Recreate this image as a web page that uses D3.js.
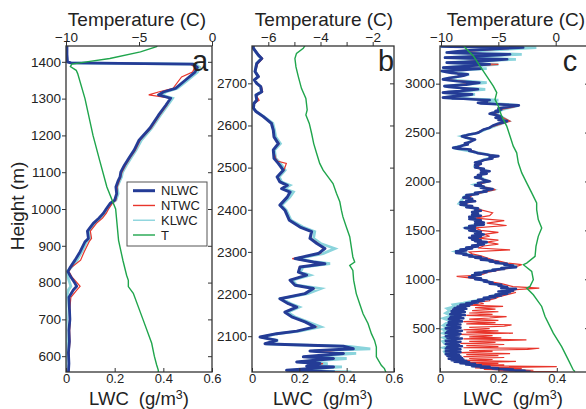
<!DOCTYPE html>
<html>
<head>
<meta charset="utf-8">
<script src="https://cdn.jsdelivr.net/npm/d3@7"></script>
<style>
  body { margin: 0; background: #fff; }
  text { font-family: "Liberation Sans", Arial, Helvetica, sans-serif; fill: #222; }
</style>
</head>
<body>
<script>
// profiles are [height (m), value] pairs

// panel a
const nlwcA = [[557,0.01],[580,0.012],[610,0.01],[640,0.014],[670,0.012],[700,0.016],[730,0.014],[760,0.012],[780,0.03],[790,0.044],[800,0.035],[815,0.02],[830,0.008],[840,0.016],[861,0.037],[884,0.058],[911,0.078],[920,0.092],[940,0.088],[961,0.112],[975,0.135],[988,0.153],[1000,0.165],[1015,0.181],[1024,0.2],[1042,0.208],[1060,0.205],[1078,0.215],[1087,0.222],[1100,0.225],[1119,0.24],[1140,0.26],[1160,0.28],[1187,0.3],[1220,0.345],[1255,0.38],[1282,0.41],[1301,0.43],[1310,0.38],[1318,0.4],[1328,0.45],[1350,0.49],[1372,0.53],[1385,0.54],[1394,0.52],[1397,0.02],[1400,0.006],[1420,0.004],[1443,0.004]];
const ntwcA = [[557,0.012],[580,0.014],[610,0.013],[640,0.016],[670,0.015],[700,0.018],[730,0.016],[760,0.02],[780,0.045],[790,0.058],[800,0.045],[815,0.025],[830,0.012],[840,0.02],[861,0.06],[884,0.075],[911,0.095],[920,0.105],[940,0.1],[961,0.125],[975,0.15],[988,0.165],[1000,0.175],[1015,0.19],[1024,0.205],[1042,0.21],[1060,0.21],[1078,0.22],[1087,0.225],[1100,0.23],[1119,0.245],[1140,0.265],[1160,0.285],[1187,0.305],[1220,0.35],[1255,0.385],[1282,0.415],[1301,0.43],[1310,0.34],[1318,0.38],[1328,0.44],[1359,0.475],[1372,0.52],[1385,0.53],[1394,0.51],[1397,0.015],[1400,0.005],[1420,0.004],[1443,0.004]];
const klwcA = [[557,0.0],[580,0.0],[610,0.0],[640,0.002],[670,0.0],[700,0.002],[730,0.0],[760,0.002],[780,0.01],[790,0.02],[800,0.015],[815,0.008],[830,0.004],[840,0.02],[861,0.045],[884,0.065],[911,0.085],[920,0.098],[940,0.094],[961,0.118],[975,0.14],[988,0.158],[1000,0.17],[1015,0.186],[1024,0.205],[1042,0.214],[1060,0.21],[1078,0.222],[1087,0.228],[1100,0.232],[1119,0.248],[1140,0.268],[1160,0.288],[1187,0.31],[1220,0.352],[1255,0.388],[1282,0.418],[1301,0.438],[1310,0.39],[1318,0.41],[1328,0.458],[1350,0.5],[1372,0.54],[1385,0.55],[1394,0.53],[1397,0.02],[1400,0.004],[1420,0.002],[1443,0.002]];
const tempA = [[557,-3.68],[562,-3.68],[576,-3.79],[600,-3.95],[635,-4.13],[698,-4.71],[771,-5.39],[789,-5.73],[806,-5.73],[820,-5.85],[860,-6.1],[915,-6.4],[1000,-6.6],[1060,-7.2],[1133,-7.7],[1200,-8.15],[1300,-8.7],[1368,-9.2],[1377,-9.3],[1387,-9.7],[1394,-9.6],[1400,-8.6],[1409,-7.0],[1427,-4.9],[1441,-3.8],[1443,-3.75]];

// panel b
const nlwcB = [[2015,0.35],[2019,0.146],[2027,0.344],[2029,0.231],[2035,0.287],[2039,0.189],[2047,0.344],[2051,0.217],[2059,0.386],[2065,0.245],[2070,0.428],[2076,0.386],[2080,0.139],[2082,0.055],[2090,0.104],[2098,0.034],[2106,0.104],[2112,0.189],[2122,0.266],[2134,0.224],[2146,0.168],[2157,0.139],[2169,0.189],[2177,0.154],[2189,0.118],[2201,0.224],[2213,0.259],[2221,0.182],[2233,0.161],[2245,0.231],[2252,0.196],[2264,0.203],[2272,0.308],[2276,0.259],[2284,0.182],[2296,0.28],[2308,0.308],[2320,0.274],[2332,0.245],[2348,0.252],[2359,0.203],[2375,0.158],[2399,0.139],[2411,0.118],[2430,0.149],[2442,0.161],[2450,0.125],[2458,0.149],[2466,0.118],[2478,0.106],[2494,0.132],[2510,0.111],[2522,0.093],[2542,0.09],[2557,0.111],[2573,0.093],[2589,0.09],[2605,0.082],[2621,0.048],[2633,0.017],[2641,0.006],[2652,0.008],[2660,0.02],[2672,0.017],[2680,0.041],[2692,0.037],[2700,0.02],[2708,0.01],[2716,0.027],[2728,0.013],[2747,0.02],[2759,0.041],[2767,0.027],[2783,0.006],[2789,0.005]];
const ntwcB = [[2015,0.4],[2019,0.15],[2027,0.35],[2029,0.24],[2035,0.3],[2039,0.19],[2047,0.35],[2051,0.22],[2059,0.39],[2065,0.27],[2070,0.43],[2076,0.39],[2080,0.14],[2082,0.055],[2090,0.1],[2098,0.03],[2106,0.1],[2112,0.19],[2122,0.27],[2134,0.22],[2146,0.17],[2157,0.14],[2169,0.19],[2177,0.15],[2189,0.12],[2201,0.22],[2213,0.26],[2221,0.18],[2233,0.16],[2245,0.23],[2252,0.2],[2264,0.2],[2272,0.3],[2276,0.26],[2284,0.17],[2296,0.29],[2308,0.3],[2320,0.28],[2332,0.25],[2348,0.25],[2359,0.2],[2375,0.16],[2399,0.14],[2411,0.12],[2430,0.15],[2442,0.16],[2450,0.125],[2458,0.15],[2466,0.12],[2478,0.11],[2494,0.135],[2510,0.145],[2515,0.11],[2522,0.1],[2542,0.09],[2557,0.115],[2573,0.093],[2589,0.09],[2605,0.085],[2621,0.048],[2633,0.017],[2641,0.006],[2652,0.008],[2660,0.03],[2672,0.017],[2680,0.045],[2692,0.04],[2700,0.02],[2708,0.01],[2716,0.03],[2728,0.013],[2747,0.025],[2759,0.045],[2767,0.03],[2783,0.006],[2789,0.005]];
const klwcB = [[2015,0.42],[2019,0.16],[2027,0.38],[2029,0.25],[2035,0.32],[2039,0.2],[2047,0.4],[2051,0.23],[2059,0.44],[2065,0.26],[2070,0.5],[2076,0.41],[2080,0.15],[2082,0.06],[2090,0.11],[2098,0.04],[2106,0.11],[2112,0.2],[2122,0.29],[2134,0.235],[2146,0.18],[2157,0.15],[2169,0.2],[2177,0.165],[2189,0.125],[2201,0.235],[2213,0.29],[2221,0.19],[2233,0.17],[2245,0.245],[2252,0.205],[2264,0.215],[2272,0.33],[2276,0.27],[2284,0.19],[2296,0.3],[2308,0.35],[2320,0.29],[2332,0.26],[2348,0.265],[2359,0.215],[2375,0.165],[2399,0.145],[2411,0.125],[2430,0.16],[2442,0.175],[2450,0.135],[2458,0.16],[2466,0.125],[2478,0.115],[2494,0.14],[2510,0.12],[2522,0.1],[2542,0.095],[2557,0.12],[2573,0.1],[2589,0.095],[2605,0.088],[2621,0.05],[2633,0.018],[2641,0.006],[2652,0.008],[2660,0.02],[2672,0.017],[2680,0.04],[2692,0.036],[2700,0.02],[2708,0.01],[2716,0.026],[2728,0.013],[2747,0.02],[2759,0.04],[2767,0.026],[2783,0.006],[2789,0.005]];
const tempB = [[2012,-1.48],[2023,-1.55],[2031,-1.67],[2051,-1.86],[2074,-1.86],[2090,-1.93],[2106,-2.05],[2130,-2.18],[2153,-2.37],[2177,-2.5],[2201,-2.63],[2233,-2.73],[2256,-2.76],[2268,-2.88],[2276,-2.69],[2288,-2.76],[2312,-2.82],[2336,-2.88],[2359,-3.01],[2383,-3.14],[2399,-3.2],[2419,-3.26],[2439,-3.39],[2462,-3.52],[2478,-3.71],[2494,-3.9],[2510,-4.03],[2534,-4.15],[2557,-4.26],[2581,-4.34],[2605,-4.43],[2625,-4.56],[2637,-4.51],[2664,-4.56],[2688,-4.73],[2716,-4.85],[2739,-4.94],[2759,-4.98],[2771,-4.92],[2783,-4.66],[2789,-4.6]];

// panel c
const nlwcC = [[55,0.31],[60,0.26],[65,0.29],[72,0.22],[78,0.25],[85,0.18],[90,0.2],[98,0.14],[105,0.17],[112,0.11],[120,0.14],[128,0.09],[135,0.12],[141,0.07],[150,0.1],[158,0.05],[165,0.09],[172,0.04],[180,0.08],[188,0.03],[195,0.075],[203,0.03],[210,0.07],[218,0.025],[225,0.065],[233,0.02],[240,0.06],[248,0.025],[255,0.07],[263,0.02],[270,0.055],[278,0.03],[285,0.07],[293,0.02],[300,0.06],[308,0.025],[315,0.075],[323,0.03],[330,0.065],[338,0.02],[346,0.06],[354,0.025],[362,0.07],[370,0.02],[378,0.055],[386,0.03],[394,0.075],[402,0.025],[410,0.06],[418,0.02],[426,0.065],[434,0.03],[442,0.07],[450,0.02],[458,0.06],[466,0.025],[474,0.075],[482,0.03],[490,0.06],[498,0.02],[506,0.07],[514,0.03],[522,0.065],[530,0.025],[538,0.07],[546,0.03],[554,0.06],[562,0.03],[570,0.075],[578,0.035],[586,0.065],[594,0.03],[602,0.08],[610,0.035],[618,0.07],[626,0.04],[634,0.085],[642,0.035],[650,0.07],[658,0.04],[666,0.085],[674,0.04],[682,0.08],[690,0.045],[698,0.09],[706,0.05],[714,0.085],[722,0.06],[730,0.1],[739,0.07],[748,0.11],[755,0.09],[764,0.13],[773,0.11],[782,0.15],[790,0.13],[800,0.17],[810,0.15],[818,0.19],[825,0.17],[835,0.21],[845,0.19],[852,0.23],[860,0.21],[868,0.24],[875,0.2],[884,0.25],[893,0.23],[902,0.26],[910,0.21],[920,0.23],[934,0.2],[944,0.21],[955,0.17],[966,0.18],[978,0.15],[988,0.16],[1000,0.12],[1010,0.14],[1020,0.1],[1029,0.12],[1040,0.11],[1050,0.14],[1064,0.12],[1072,0.16],[1080,0.15],[1090,0.19],[1098,0.18],[1106,0.22],[1115,0.21],[1124,0.26],[1132,0.24],[1141,0.25],[1150,0.22],[1158,0.23],[1166,0.19],[1175,0.2],[1183,0.17],[1192,0.18],[1200,0.14],[1210,0.16],[1220,0.12],[1228,0.14],[1234,0.1],[1242,0.11],[1250,0.08],[1260,0.09],[1270,0.055],[1278,0.075],[1285,0.055],[1295,0.09],[1305,0.07],[1315,0.11],[1325,0.09],[1335,0.13],[1345,0.11],[1356,0.15],[1371,0.13],[1380,0.16],[1390,0.12],[1398,0.14],[1405,0.11],[1415,0.13],[1425,0.1],[1435,0.14],[1445,0.11],[1458,0.15],[1473,0.12],[1485,0.14],[1500,0.1],[1512,0.12],[1525,0.085],[1535,0.12],[1545,0.1],[1558,0.15],[1568,0.12],[1580,0.15],[1592,0.12],[1604,0.14],[1616,0.1],[1627,0.12],[1638,0.1],[1650,0.14],[1662,0.11],[1675,0.13],[1688,0.11],[1700,0.14],[1712,0.12],[1725,0.13],[1737,0.09],[1750,0.11],[1762,0.07],[1774,0.09],[1786,0.07],[1797,0.12],[1810,0.09],[1822,0.11],[1835,0.08],[1848,0.1],[1860,0.09],[1872,0.13],[1885,0.12],[1898,0.16],[1910,0.15],[1922,0.18],[1935,0.14],[1948,0.15],[1960,0.12],[1972,0.14],[1985,0.13],[2002,0.17],[2015,0.15],[2030,0.14],[2042,0.12],[2053,0.14],[2066,0.13],[2080,0.16],[2092,0.14],[2105,0.17],[2118,0.14],[2130,0.15],[2143,0.12],[2156,0.13],[2168,0.12],[2180,0.14],[2194,0.12],[2207,0.14],[2220,0.15],[2235,0.18],[2247,0.17],[2259,0.2],[2268,0.17],[2276,0.16],[2288,0.13],[2300,0.12],[2314,0.1],[2327,0.105],[2336,0.06],[2344,0.045],[2352,0.06],[2360,0.07],[2370,0.08],[2378,0.095],[2390,0.085],[2400,0.1],[2415,0.11],[2429,0.12],[2446,0.09],[2463,0.075],[2472,0.09],[2480,0.1],[2490,0.12],[2498,0.13],[2515,0.14],[2532,0.15],[2550,0.17],[2570,0.18],[2592,0.2],[2605,0.22],[2617,0.23],[2630,0.2],[2640,0.21],[2652,0.19],[2662,0.21],[2672,0.2],[2680,0.19],[2692,0.17],[2703,0.18],[2712,0.2],[2720,0.19],[2737,0.21],[2748,0.2],[2760,0.23],[2770,0.25],[2778,0.27],[2786,0.22],[2790,0.2],[2798,0.14],[2805,0.13],[2812,0.16],[2820,0.15],[2832,0.17],[2838,0.12],[2845,0.08],[2850,0.04],[2857,0.01],[2866,0.03],[2875,0.06],[2883,0.09],[2890,0.11],[2896,0.07],[2900,0.05],[2904,0.02],[2908,0.01],[2916,0.03],[2925,0.07],[2934,0.1],[2942,0.13],[2950,0.09],[2958,0.06],[2966,0.03],[2975,0.015],[2983,0.05],[2990,0.09],[3000,0.11],[3010,0.135],[3018,0.09],[3025,0.06],[3034,0.03],[3044,0.01],[3058,0.03],[3070,0.06],[3082,0.08],[3095,0.095],[3103,0.06],[3110,0.04],[3120,0.02],[3129,0.006],[3135,0.04],[3140,0.08],[3147,0.11],[3154,0.14],[3158,0.08],[3160,0.05],[3164,0.011],[3172,0.05],[3180,0.1],[3190,0.14],[3198,0.17],[3203,0.12],[3207,0.08],[3211,0.04],[3215,0.023],[3222,0.08],[3230,0.14],[3240,0.19],[3249,0.23],[3254,0.15],[3258,0.1],[3262,0.05],[3266,0.017],[3275,0.09],[3285,0.16],[3293,0.21],[3300,0.24],[3305,0.16],[3310,0.1],[3314,0.05],[3318,0.023],[3330,0.06],[3340,0.1],[3350,0.16],[3360,0.22],[3369,0.285],[3372,0.18],[3375,0.1],[3378,0.04],[3380,0.006],[3385,0.006]];
const ntwcC = [[55,0.4],[62,0.2],[70,0.32],[78,0.15],[86,0.28],[95,0.12],[107,0.4],[115,0.14],[124,0.22],[133,0.1],[141,0.2],[150,0.09],[160,0.26],[170,0.08],[180,0.18],[190,0.1],[200,0.22],[210,0.08],[220,0.2],[230,0.09],[240,0.24],[250,0.07],[262,0.18],[272,0.1],[283,0.3],[295,0.34],[300,0.08],[312,0.2],[322,0.09],[333,0.22],[345,0.07],[355,0.19],[366,0.1],[380,0.296],[390,0.08],[400,0.21],[412,0.1],[424,0.18],[436,0.07],[449,0.25],[460,0.09],[472,0.2],[484,0.08],[496,0.17],[508,0.1],[520,0.22],[534,0.245],[545,0.09],[556,0.19],[568,0.08],[580,0.2],[592,0.1],[604,0.17],[619,0.228],[630,0.09],[642,0.18],[655,0.1],[668,0.2],[680,0.11],[695,0.19],[710,0.12],[722,0.216],[735,0.1],[750,0.15],[765,0.13],[780,0.17],[790,0.17],[805,0.19],[820,0.2],[835,0.22],[850,0.24],[865,0.26],[880,0.23],[895,0.26],[910,0.34],[925,0.25],[940,0.23],[955,0.21],[970,0.18],[985,0.16],[1000,0.14],[1015,0.1],[1029,0.057],[1040,0.13],[1055,0.15],[1070,0.16],[1085,0.19],[1100,0.21],[1115,0.24],[1130,0.26],[1149,0.28],[1165,0.23],[1180,0.21],[1200,0.18],[1220,0.16],[1240,0.14],[1260,0.11],[1280,0.1],[1300,0.24],[1320,0.13],[1340,0.15],[1360,0.2],[1380,0.16],[1400,0.2],[1420,0.13],[1440,0.17],[1460,0.15],[1480,0.2],[1500,0.14],[1525,0.12],[1550,0.228],[1575,0.16],[1600,0.22],[1625,0.12],[1650,0.17],[1680,0.18],[1710,0.14],[1740,0.11],[1770,0.08],[1800,0.12],[1830,0.1],[1860,0.11],[1890,0.15],[1917,0.19],[1945,0.15],[1970,0.13],[2000,0.17],[2030,0.14],[2053,0.13],[2080,0.15],[2105,0.16],[2130,0.14],[2156,0.13],[2180,0.14],[2207,0.14],[2235,0.17],[2259,0.2],[2276,0.16],[2300,0.12],[2327,0.103],[2344,0.05],[2378,0.09],[2429,0.113],[2463,0.08],[2498,0.125],[2532,0.15],[2570,0.19],[2617,0.24],[2662,0.21],[2703,0.185],[2737,0.21],[2760,0.25],[2778,0.27],[2805,0.14],[2832,0.17],[2857,0.012],[2890,0.1],[2908,0.012],[2942,0.125],[2975,0.018],[3010,0.13],[3044,0.012],[3095,0.09],[3129,0.006],[3154,0.14],[3164,0.011],[3198,0.2],[3215,0.023],[3249,0.23],[3266,0.017],[3300,0.24],[3318,0.023],[3369,0.28],[3380,0.006],[3385,0.006]];
const klwcC = [[55,0.31],[65,0.29],[78,0.22],[90,0.17],[105,0.13],[120,0.11],[141,0.09],[160,0.07],[175,0.05],[190,0.045],[209,0.04],[225,0.03],[240,0.02],[261,0.015],[280,0.03],[300,0.012],[320,0.035],[346,0.015],[365,0.01],[385,0.03],[405,0.012],[430,0.035],[449,0.01],[470,0.025],[490,0.01],[510,0.03],[530,0.012],[551,0.022],[575,0.035],[600,0.012],[625,0.04],[654,0.02],[680,0.035],[700,0.025],[720,0.05],[739,0.045],[755,0.08],[773,0.11],[790,0.14],[810,0.16],[825,0.175],[845,0.2],[860,0.22],[875,0.215],[893,0.24],[910,0.225],[934,0.21],[955,0.185],[978,0.165],[1000,0.13],[1029,0.105],[1064,0.13],[1098,0.19],[1132,0.265],[1166,0.21],[1200,0.155],[1234,0.12],[1285,0.055],[1320,0.1],[1371,0.155],[1405,0.12],[1473,0.135],[1525,0.09],[1576,0.145],[1627,0.11],[1712,0.135],[1774,0.065],[1848,0.085],[1917,0.18],[1968,0.12],[2002,0.165],[2053,0.13],[2105,0.16],[2156,0.12],[2207,0.135],[2259,0.19],[2300,0.12],[2344,0.045],[2378,0.09],[2429,0.11],[2463,0.075],[2498,0.13],[2532,0.155],[2617,0.235],[2662,0.21],[2703,0.19],[2737,0.215],[2778,0.27],[2805,0.14],[2832,0.2],[2857,0.01],[2890,0.12],[2908,0.01],[2942,0.155],[2975,0.015],[3010,0.16],[3044,0.01],[3095,0.1],[3129,0.005],[3154,0.16],[3164,0.01],[3198,0.2],[3215,0.02],[3249,0.26],[3266,0.015],[3300,0.28],[3318,0.02],[3369,0.33],[3380,0.005],[3385,0.005]];
const tempC = [[56,1.68],[73,1.53],[176,1.1],[312,0.52],[449,-0.21],[620,-0.93],[722,-1.22],[842,-1.95],[910,-2.53],[927,-2.24],[995,-1.95],[1081,-2.09],[1149,-2.82],[1166,-2.53],[1234,-1.8],[1336,-1.72],[1439,-1.52],[1525,-1.22],[1610,-1.52],[1712,-1.66],[1781,-1.66],[1883,-2.09],[1986,-2.53],[2088,-2.96],[2191,-3.26],[2293,-3.4],[2361,-3.7],[2463,-3.98],[2566,-4.27],[2668,-4.71],[2770,-5.0],[2839,-5.29],[2908,-5.14],[2975,-5.44],[3078,-6.02],[3180,-6.6],[3283,-7.18],[3369,-7.91],[3385,-8.0]];

// tick values
const heightTicksA = [600, 700, 800, 900, 1000, 1100, 1200, 1300, 1400];
const heightTicksB = [2100, 2200, 2300, 2400, 2500, 2600, 2700];
const heightTicksC = [500, 1000, 1500, 2000, 2500, 3000];
const lwcTicksAB = [0, 0.2, 0.4, 0.6];
const lwcTicksC = [0, 0.2, 0.4];
const tempTicksA = [-10, -5, 0];
const tempTicksB = [-6, -5, -4, -3, -2];
const tempLabelsB = [-6, -4, -2];
const tempTicksC = [-10, -5, 0];

const seriesNames = ['NLWC', 'NTWC', 'KLWC', 'T'];
const colors = {NLWC: '#243c96', NTWC: '#e8352b', KLWC: '#8ad4dc', T: '#1fa54c'};

const plotTop = 46, plotBottom = 372;

const svg = d3.select('body').append('svg')
  .attr('width', 586)
  .attr('height', 409);

const panels = [
  {id: 'a', left: 66, right: 212, lwcMax: 0.6, lwcRight: 212, hDomain: [557, 1443],
   tDomain: [-10, 0], tRange: [66, 212], hTicks: heightTicksA, lwcTicks: lwcTicksAB,
   tTicks: tempTicksA, tLabels: tempTicksA, tLabelX: 137, letterX: 200, blueW: 2.8,
   nlwc: nlwcA, ntwc: ntwcA, klwc: klwcA, temp: tempA},
  {id: 'b', left: 252, right: 394, lwcMax: 0.6, lwcRight: 394, hDomain: [2015, 2788.6],
   tDomain: [-6, -2], tRange: [268.3, 372.7], hTicks: heightTicksB, lwcTicks: lwcTicksAB,
   tTicks: tempTicksB, tLabels: tempLabelsB, tLabelX: 324, letterX: 386, blueW: 3,
   nlwc: nlwcB, ntwc: ntwcB, klwc: klwcB, temp: tempB},
  {id: 'c', left: 440, right: 589, lwcMax: 0.5, lwcRight: 586, hDomain: [52, 3385],
   tDomain: [-10, 0], tRange: [441, 555.7], hTicks: heightTicksC, lwcTicks: lwcTicksC,
   tTicks: tempTicksC, tLabels: tempTicksC, tLabelX: 516, letterX: 570, blueW: 2.6,
   nlwc: nlwcC, ntwc: ntwcC, klwc: klwcC, temp: tempC}
];

const drawPanel = p => {
  const x = d3.scaleLinear().domain([0, p.lwcMax]).range([p.left, p.lwcRight]);
  const y = d3.scaleLinear().domain(p.hDomain).range([plotBottom, plotTop]);
  const t = d3.scaleLinear().domain(p.tDomain).range(p.tRange);

  const g = svg.append('g');

  g.append('clipPath').attr('id', 'clip-' + p.id)
    .append('rect')
    .attr('x', p.left).attr('y', plotTop)
    .attr('width', p.right - p.left).attr('height', plotBottom - plotTop);

  const plot = g.append('g').attr('clip-path', `url(#clip-${p.id})`);
  const lwcLine = d3.line().x(d => x(d[1])).y(d => y(d[0]));
  const tLine = d3.line().x(d => t(d[1])).y(d => y(d[0]));

  plot.append('path').datum(p.klwc).attr('d', lwcLine)
    .attr('fill', 'none').attr('stroke', colors.KLWC).attr('stroke-width', 2.8);
  plot.append('path').datum(p.ntwc).attr('d', lwcLine)
    .attr('fill', 'none').attr('stroke', colors.NTWC).attr('stroke-width', 1.2);
  plot.append('path').datum(p.nlwc).attr('d', lwcLine)
    .attr('fill', 'none').attr('stroke', colors.NLWC).attr('stroke-width', p.blueW)
    .attr('stroke-linejoin', 'round');
  plot.append('path').datum(p.temp).attr('d', tLine)
    .attr('fill', 'none').attr('stroke', colors.T).attr('stroke-width', 1.4);

  // axes
  const styleAxis = size => sel => {
    sel.select('.domain').remove();
    sel.selectAll('line').attr('stroke', '#333').attr('stroke-width', 1);
    sel.selectAll('text').style('font-size', size).attr('fill', '#333');
  };

  g.append('g').attr('transform', `translate(${p.left},0)`)
    .call(d3.axisLeft(y).tickValues(p.hTicks).tickSize(4).tickPadding(1).tickFormat(d3.format('d')))
    .call(styleAxis('13.5px'));

  g.append('g').attr('transform', `translate(${p.right},0)`)
    .call(d3.axisRight(y).tickValues(p.hTicks).tickSize(-4).tickFormat(''))
    .call(styleAxis('13.5px'));

  g.append('g').attr('transform', `translate(0,${plotBottom})`)
    .call(d3.axisBottom(x).tickValues(p.lwcTicks).tickSize(-4).tickPadding(2).tickFormat(d3.format('')))
    .call(styleAxis('13px'));

  g.append('g').attr('transform', `translate(0,${plotTop})`)
    .call(d3.axisTop(t).tickValues(p.tTicks).tickSize(4).tickPadding(0)
      .tickFormat(d => p.tLabels.includes(d) ? d3.format('')(d) : ''))
    .call(styleAxis('13.5px'));

  g.append('rect')
    .attr('x', p.left).attr('y', plotTop)
    .attr('width', p.right - p.left).attr('height', plotBottom - plotTop)
    .attr('fill', 'none').attr('stroke', '#333').attr('stroke-width', 1.3);

  // labels
  g.append('text')
    .attr('x', p.tLabelX).attr('y', 26)
    .attr('text-anchor', 'middle').style('font-size', '19px')
    .text('Temperature (C)');

  const lw = g.append('text')
    .attr('x', (p.left + Math.min(p.right, 586)) / 2).attr('y', 404.5)
    .attr('text-anchor', 'middle').style('font-size', '18.5px');
  lw.append('tspan').text('LWC');
  lw.append('tspan').attr('dx', 10).text('(g/m');
  lw.append('tspan').attr('dy', -6).style('font-size', '12.5px').text('3');
  lw.append('tspan').attr('dy', 6).text(')');

  g.append('text')
    .attr('x', p.letterX).attr('y', 71)
    .attr('text-anchor', 'middle').style('font-size', '29px')
    .text(p.id);
};

panels.forEach(drawPanel);

svg.append('text')
  .attr('transform', 'translate(24,206) rotate(-90)')
  .attr('text-anchor', 'middle').style('font-size', '19px')
  .text('Height (m)');

// legend in panel a
const legend = svg.append('g');
legend.append('rect')
  .attr('x', 127).attr('y', 182).attr('width', 80).attr('height', 64)
  .attr('fill', '#fff').attr('stroke', '#555').attr('stroke-width', 1);

const legendY = d3.scalePoint().domain(seriesNames).range([190.7, 235]);
const widths = {NLWC: 3, NTWC: 1.4, KLWC: 1.4, T: 1.4};

seriesNames.forEach(name => {
  legend.append('line')
    .attr('x1', 133).attr('x2', 155)
    .attr('y1', legendY(name)).attr('y2', legendY(name))
    .attr('stroke', colors[name]).attr('stroke-width', widths[name]);
  legend.append('text')
    .attr('x', 161).attr('y', legendY(name)).attr('dy', '0.36em')
    .style('font-size', '13px')
    .text(name);
});
</script>
</body>
</html>
